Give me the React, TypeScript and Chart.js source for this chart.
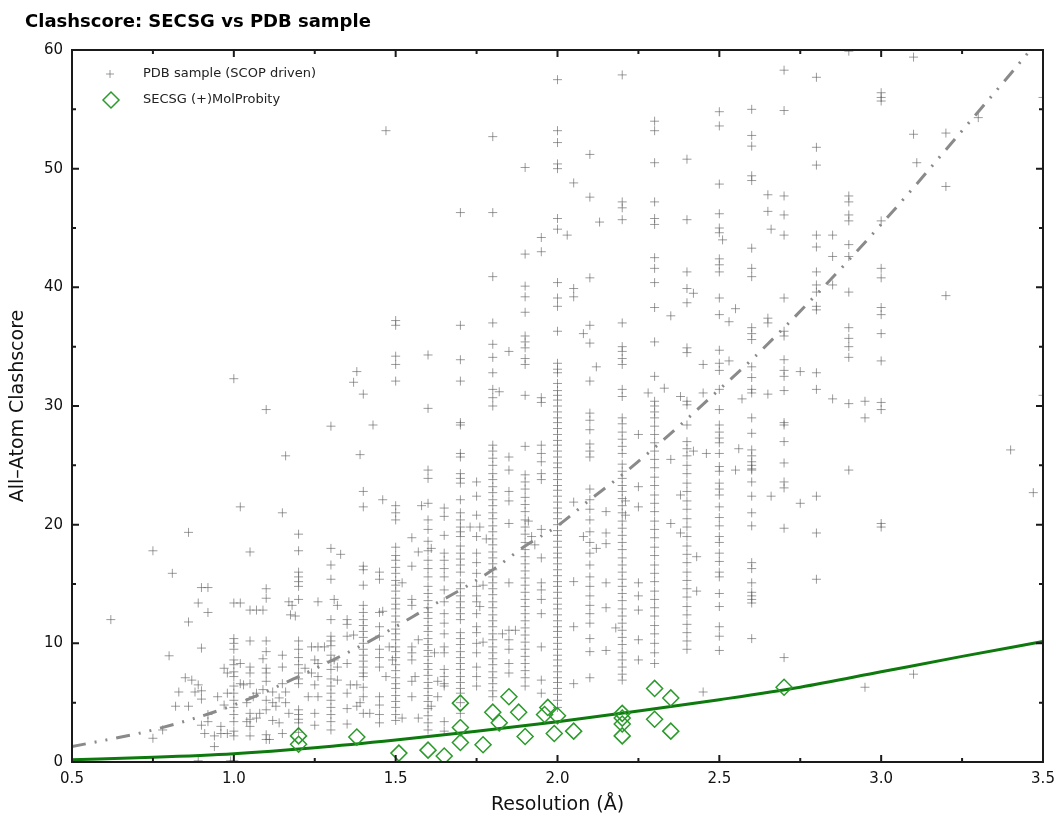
import React, { useEffect, useRef } from "react";
import { Chart, registerables } from "chart.js";

Chart.register(...registerables);

const FONT = '"DejaVu Sans", "Noto Sans", sans-serif';

const chartTitle = "Clashscore: SECSG vs PDB sample";
const xAxisTitle = "Resolution (Å)";
const yAxisTitle = "All\u2013Atom Clashscore";
const legendLabels = ["PDB sample (SCOP driven)", "SECSG (+)MolProbity"];

const xMin = 0.5;
const xMax = 3.5;
const yMin = 0;
const yMax = 60;
const xMajorTicks = [0.5, 1.0, 1.5, 2.0, 2.5, 3.0, 3.5];
const xMinorTicks = [0.75, 1.25, 1.75, 2.25, 2.75, 3.25];
const yMajorTicks = [0, 10, 20, 30, 40, 50, 60];
const yMinorTicks = [5, 15, 25, 35, 45, 55];

// PDB sample: resolutions reported on "stripes" (common resolution values)
const stripeRes = [
  1.0, 1.05, 1.1, 1.15, 1.2, 1.3, 1.4, 1.45, 1.5, 1.6, 1.65, 1.7, 1.75, 1.8, 1.85, 1.9, 1.95, 2.0, 2.05, 2.1,
  2.15, 2.2, 2.25, 2.3, 2.35, 2.4, 2.5, 2.6, 2.7, 2.8, 2.9, 3.0,
];
const stripeClash: number[][] = [
  [10.4, 10.0, 9.5, 8.6, 8.2, 7.6, 7.2, 6.4, 5.8, 5.2, 4.6, 4.0, 3.4, 2.6, 2.2, 0.1],
  [10.2, 8.0, 7.5, 6.6, 4.1, 3.6, 3.0, 2.2],
  [14.6, 13.8, 10.2, 9.3, 7.9, 7.5, 6.8, 5.2, 4.4, 2.3, 1.9],
  [21.0, 9.0, 8.0, 6.6, 2.4],
  [19.2, 17.8, 16.0, 15.6, 15.2, 14.8, 13.7, 10.2, 9.5, 8.8, 8.2, 7.5, 7.0, 6.6, 4.4, 4.0, 3.6, 3.3, 2.5],
  [28.3, 18.0, 16.6, 15.4, 12.0, 10.6, 10.2, 9.8, 9.0, 8.5, 7.8, 7.0, 6.4, 5.8, 5.2, 4.6, 4.0, 3.4, 2.7],
  [22.8, 21.5, 16.5, 16.2, 14.9, 13.2, 12.6, 12.0, 11.5, 11.0, 10.5, 10.0, 9.5, 9.0, 8.5, 8.0, 7.5, 7.2, 6.3, 5.5, 4.1],
  [16.0, 15.4, 12.6, 11.4, 10.6, 9.5, 8.8, 8.0, 5.5, 4.8, 4.0, 3.3],
  [37.2, 36.8, 34.2, 33.5, 32.1, 21.6, 21.0, 20.4, 18.1, 17.4, 17.0, 16.4, 15.9, 15.3, 14.9, 14.4, 13.8, 13.3, 12.9,
    12.3, 11.8, 11.2, 10.8, 10.3, 9.7, 9.3, 8.8, 8.2, 7.7, 7.1, 6.6, 6.2, 5.6, 5.1, 4.6, 4.0, 3.5],
  [34.3, 29.8, 24.6, 23.9, 21.8, 20.4, 19.6, 18.6, 17.8, 17.0, 16.3, 15.6, 14.8, 14.2, 13.6, 13.0, 12.6, 12.1, 11.5,
    11.0, 10.4, 9.9, 9.4, 8.9, 8.3, 7.8, 7.3, 6.7, 6.2, 5.6, 5.1, 4.5, 3.9, 3.3, 2.7],
  [21.4, 20.7, 19.1, 17.6, 17.0, 16.3, 15.6, 14.5, 13.5, 12.5, 11.7, 10.8, 9.7, 9.2, 7.8, 7.2, 6.6, 6.4, 3.4, 2.6],
  [46.3, 36.8, 33.9, 32.1, 28.6, 28.4, 26.0, 25.7, 24.3, 23.9, 23.5, 22.1, 21.0, 20.4, 19.8, 19.4, 19.0, 18.2, 17.6,
    17.1, 16.6, 16.0, 15.1, 14.6, 14.0, 13.5, 13.0, 12.5, 12.0, 10.9, 10.4, 9.9, 9.3, 8.8, 8.3, 7.8, 7.2, 6.7, 6.2,
    5.8, 5.0, 4.1],
  [23.6, 22.4, 20.8, 19.0, 17.6, 16.8, 15.9, 14.8, 14.0, 13.5, 12.5, 11.4, 10.9, 10.0, 9.2, 8.0, 7.2, 6.4],
  [52.7, 46.3, 40.9, 37.0, 35.2, 34.1, 32.8, 31.4, 30.7, 30.0, 26.7, 26.2, 25.6, 25.0, 24.3, 23.8, 23.2, 22.7, 22.1,
    21.6, 21.0, 20.5, 19.9, 19.4, 18.8, 18.3, 17.7, 17.2, 16.7, 16.2, 15.6, 15.1, 14.6, 14.1, 13.5, 13.0, 12.4, 11.9,
    11.4, 10.8, 10.3, 9.7, 9.2, 8.7, 8.2, 7.6, 7.1, 6.6, 6.0, 5.5],
  [34.6, 25.7, 24.6, 22.8, 22.0, 20.1, 15.1, 11.1, 10.3, 9.5, 8.3, 7.5],
  [50.1, 42.8, 40.1, 39.2, 37.9, 35.9, 35.4, 34.9, 34.0, 33.5, 30.9, 26.6, 24.2, 23.6, 23.0, 22.3, 21.7, 21.1, 20.4,
    19.8, 19.2, 18.5, 17.9, 17.3, 16.7, 16.1, 15.5, 14.9, 14.3, 13.7, 13.1, 12.5, 11.9, 11.3, 10.7, 10.1, 9.5, 8.9,
    8.3, 7.7, 7.1, 6.4],
  [44.2, 43.0, 30.7, 30.3, 26.7, 26.0, 25.3, 24.3, 23.8, 19.6, 17.2, 15.1, 14.5, 13.7, 12.5, 9.7, 6.9, 5.8],
  [57.5, 53.2, 52.2, 50.4, 50.0, 45.8, 44.9, 40.4, 39.1, 38.4, 36.3, 33.6, 33.1, 32.8, 31.9, 31.3, 30.9, 30.5, 30.0,
    29.5, 29.0, 28.6, 28.1, 27.6, 27.1, 26.7, 26.2, 25.7, 25.2, 24.8, 24.3, 23.8, 23.3, 22.9, 22.4, 21.9, 21.4, 21.0,
    20.5, 20.0, 19.5, 19.1, 18.6, 18.1, 17.6, 17.2, 16.7, 16.2, 15.7, 15.2, 14.8, 14.3, 13.8, 13.3, 12.9, 12.4, 11.9,
    11.4, 11.0, 10.5, 10.0, 9.5, 9.0, 8.6, 8.1, 7.6, 7.1, 6.7, 6.2, 5.7, 5.2, 4.6],
  [48.8, 39.9, 39.2, 21.9, 15.2, 11.4, 6.6],
  [51.2, 47.6, 40.8, 36.8, 35.3, 32.1, 29.4, 28.8, 28.0, 26.8, 26.2, 25.7, 23.0, 22.1, 21.3, 20.4, 19.4, 18.5, 17.6,
    16.6, 15.6, 14.8, 14.0, 13.2, 12.5, 11.7, 10.4, 9.3, 7.1],
  [21.1, 19.3, 18.4, 15.1, 13.0, 9.4],
  [57.9, 47.2, 46.7, 45.7, 37.0, 35.0, 34.6, 34.0, 33.5, 31.4, 30.8, 29.0, 28.5, 27.8, 27.2, 26.6, 26.0, 25.1, 24.5,
    23.9, 23.3, 22.8, 22.2, 21.6, 21.0, 20.3, 19.7, 19.1, 18.5, 17.9, 17.2, 16.6, 16.0, 15.4, 14.8, 14.2, 13.6, 12.9,
    12.3, 11.7, 11.1, 10.5, 9.9, 9.2, 8.6, 8.0, 7.4, 6.9],
  [27.6, 23.2, 21.5, 15.1, 14.0, 12.8, 10.3, 8.6],
  [54.0, 53.2, 50.5, 47.2, 45.8, 45.3, 42.5, 41.6, 40.4, 38.3, 35.4, 32.5, 30.4, 30.0, 29.5, 29.0, 28.3, 27.6, 26.9,
    26.2, 25.5, 24.8, 24.0, 23.3, 22.5, 21.8, 21.1, 20.3, 19.6, 18.9, 18.1, 17.4, 16.6, 15.9, 15.2, 14.4, 13.7, 13.0,
    12.3, 11.5, 10.8, 10.0, 9.2, 8.3],
  [37.6, 25.5, 20.1],
  [50.8, 45.7, 41.3, 39.9, 38.7, 34.9, 34.5, 30.4, 30.1, 28.4, 27.0, 26.4, 25.8, 25.0, 24.3, 23.5, 22.8, 22.0, 21.3,
    20.5, 19.8, 19.0, 18.2, 17.5, 16.8, 16.0, 15.3, 14.6, 13.9, 13.1, 12.4, 11.6, 10.9, 10.2, 9.5],
  [54.8, 53.6, 48.7, 46.2, 45.0, 44.6, 42.4, 41.9, 41.3, 39.1, 37.7, 34.7, 33.6, 33.0, 31.4, 29.7, 28.4, 27.8, 27.3,
    26.9, 26.0, 24.9, 24.5, 23.5, 23.0, 22.5, 21.5, 20.6, 19.9, 19.0, 18.5, 17.6, 16.9, 16.0, 15.6, 14.2, 13.1, 11.4,
    10.6, 9.4],
  [55.0, 52.8, 51.9, 49.4, 49.0, 43.3, 41.6, 40.9, 36.6, 36.1, 35.6, 33.3, 32.4, 31.4, 31.1, 29.0, 27.7, 26.3, 25.8,
    25.3, 25.0, 24.7, 24.6, 23.6, 22.4, 21.0, 19.9, 16.8, 16.3, 15.1, 14.3, 14.0, 13.7, 13.4, 10.4],
  [58.3, 54.9, 47.7, 46.1, 44.4, 39.1, 36.3, 35.9, 33.9, 33.0, 32.5, 31.3, 28.6, 28.4, 27.0, 25.2, 23.6, 23.1, 19.7, 8.8],
  [57.7, 51.8, 50.3, 44.4, 43.4, 41.3, 40.2, 39.6, 38.4, 38.1, 32.8, 31.4, 22.4, 19.3, 15.4],
  [59.9, 47.7, 47.2, 46.1, 45.6, 43.6, 42.6, 39.6, 36.6, 35.7, 35.0, 34.1, 30.2, 24.6],
  [56.4, 56.0, 55.7, 45.6, 41.6, 40.8, 38.3, 37.7, 36.1, 33.8, 30.3, 29.7, 20.1, 19.8],
];

// PDB sample: entries off the common stripes [resolution, clashscore]
const scatterPoints: [number, number][] = [
  [0.62, 12.0], [0.75, 17.8], [0.81, 15.9], [0.86, 19.35], [0.86, 11.8], [0.8, 8.95], [0.9, 9.6], [0.89, 13.4],
  [0.9, 14.7], [0.92, 14.7], [0.92, 12.6], [1.02, 21.5], [1.05, 17.7], [1.0, 13.4], [1.02, 13.4], [1.05, 12.8],
  [1.07, 12.8], [1.09, 12.8], [1.16, 25.8], [1.43, 28.4], [1.39, 25.9], [1.46, 22.1], [1.17, 13.5], [1.18, 13.2],
  [1.175, 12.4], [1.19, 12.3], [1.26, 13.5], [1.33, 17.5], [1.31, 13.7], [1.32, 13.2], [1.35, 12.0], [1.35, 11.6],
  [1.35, 10.6], [1.37, 10.7], [1.46, 12.7], [0.83, 5.9], [0.82, 4.7], [0.86, 4.7], [0.85, 7.1], [0.87, 6.9],
  [0.89, 6.5], [0.9, 6.0], [0.88, 5.9], [0.9, 5.3], [0.75, 2.0], [0.78, 2.7], [0.9, 3.1], [0.92, 3.4], [0.92, 4.0],
  [0.91, 2.4], [0.94, 2.2], [0.96, 2.4], [0.98, 2.4], [0.94, 1.3], [0.96, 3.0], [0.97, 4.8], [0.95, 5.5], [0.98, 5.8],
  [0.97, 7.9], [0.98, 7.5], [1.02, 8.3], [1.02, 6.6], [1.03, 6.5], [1.04, 5.0], [1.04, 3.4], [1.09, 8.7], [1.09, 6.1],
  [1.12, 5.9], [1.12, 5.0], [1.13, 4.7], [1.11, 1.9], [1.07, 5.8], [1.06, 5.5], [1.08, 4.1], [1.07, 3.7], [1.12, 3.5],
  [1.14, 3.3], [1.16, 5.9], [1.14, 5.4], [1.16, 5.0], [1.17, 4.1], [1.22, 7.9], [1.24, 7.5], [1.26, 7.2], [1.24, 9.7],
  [1.26, 9.7], [1.28, 9.7], [1.25, 8.6], [1.26, 8.3], [1.25, 6.5], [1.26, 5.5], [1.23, 5.5], [1.25, 4.1], [1.25, 3.1],
  [1.32, 6.9], [1.32, 8.0], [1.31, 8.6], [1.35, 8.3], [1.35, 5.8], [1.35, 4.5], [1.35, 3.2], [1.36, 6.5], [1.38, 6.5],
  [1.38, 4.7], [1.39, 5.0], [1.42, 4.1], [1.48, 9.7], [1.49, 8.6], [1.47, 7.2], [0.89, 0.1], [0.99, 0.1],
  [1.0, 32.3], [1.1, 29.7], [1.38, 32.9], [1.37, 32.0], [1.4, 31.0], [1.47, 53.2], [1.52, 15.1], [1.55, 18.9],
  [1.55, 16.5], [1.55, 13.7], [1.55, 13.2], [1.57, 17.7], [1.58, 21.6], [1.57, 10.3], [1.55, 9.7], [1.55, 9.2],
  [1.55, 8.6], [1.55, 6.8], [1.56, 7.2], [1.52, 3.7], [1.57, 3.7], [1.55, 5.5], [1.61, 18.0], [1.62, 9.2],
  [1.63, 6.8], [1.63, 5.5], [1.61, 4.7], [1.77, 14.9], [1.76, 13.1], [1.77, 10.1], [1.73, 19.8], [1.76, 19.8],
  [1.78, 18.8], [1.82, 31.2], [1.83, 10.8], [1.87, 11.1], [1.91, 20.3], [1.92, 19.0], [1.93, 18.3], [2.03, 44.4],
  [2.08, 36.1], [2.12, 33.3], [2.13, 45.5], [2.08, 19.0], [2.12, 18.0], [2.18, 11.3], [2.21, 22.0], [2.21, 20.8],
  [2.28, 31.1], [2.33, 31.5], [2.38, 22.5], [2.38, 19.3], [2.42, 39.5], [2.38, 30.8], [2.42, 26.2], [2.46, 26.0],
  [2.43, 17.3], [2.43, 14.4], [2.45, 5.9], [2.45, 33.5], [2.45, 31.1], [2.51, 44.0], [2.55, 38.2], [2.53, 37.1],
  [2.53, 33.8], [2.57, 30.6], [2.56, 26.4], [2.55, 24.6], [2.65, 47.8], [2.65, 46.4], [2.66, 44.9], [2.65, 37.4],
  [2.65, 37.0], [2.65, 31.0], [2.66, 22.4], [2.75, 32.9], [2.75, 21.8], [2.85, 44.4], [2.85, 42.6], [2.85, 40.2],
  [2.85, 30.6], [2.95, 30.4], [2.95, 29.0], [2.95, 6.3], [3.1, 59.4], [3.1, 52.9], [3.11, 50.5], [3.1, 7.4],
  [3.2, 53.0], [3.2, 48.5], [3.2, 39.3], [3.3, 54.3], [3.4, 26.3], [3.5, 56.0], [3.5, 30.9], [3.47, 22.7],
];

// SECSG structures
const secsgRes = [1.2, 1.2, 1.38, 1.51, 1.6, 1.65, 1.7, 1.7, 1.7, 1.77, 1.8, 1.82, 1.85, 1.88, 1.9, 1.96, 1.97, 2.0,
  1.99, 2.05, 2.2, 2.2, 2.2, 2.2, 2.3, 2.3, 2.35, 2.35, 2.7];
const secsgClash = [2.2, 1.5, 2.1, 0.75, 1.0, 0.5, 4.96, 2.9, 1.65, 1.45, 4.2, 3.3, 5.5, 4.2, 2.15, 4.0, 4.6, 3.9,
  2.4, 2.6, 4.1, 3.7, 3.2, 2.2, 6.2, 3.6, 5.4, 2.6, 6.3];

// Fitted trend curves
const pdbFitRes = [0.5, 0.75, 1.0, 1.2, 1.4, 1.5, 1.6, 1.7, 1.8, 1.9, 2.0, 2.1, 2.2, 2.3, 2.4, 2.5, 2.6, 2.7, 2.8, 2.9,
  3.0, 3.1, 3.2, 3.3, 3.4, 3.5];
const pdbFitClash = [1.3, 2.7, 4.8, 7.2, 9.9, 11.4, 13.0, 14.5, 16.2, 18.2, 19.9, 22.1, 24.2, 26.5, 28.9, 31.4, 33.9,
  36.6, 39.4, 42.3, 45.3, 48.4, 51.6, 54.8, 58.0, 61.3];
const secsgFitRes = [0.5, 0.75, 1.0, 1.25, 1.5, 1.75, 2.0, 2.25, 2.5, 2.75, 3.0, 3.25, 3.5];
const secsgFitClash = [0.2, 0.4, 0.7, 1.2, 1.85, 2.6, 3.4, 4.3, 5.25, 6.3, 7.6, 8.9, 10.15];

const CROSS_COLOR = "rgba(95,95,95,0.62)";
const DIAMOND_COLOR = "#2a9a2a";
const GREEN_LINE = "#0e7a0e";
const GRAY_LINE = "#8a8a8a";

const decorPlugin = {
  id: "decor",
  afterDatasetsDraw(chart: any) {
    const { ctx, chartArea: a, scales } = chart;
    ctx.save();
    // frame
    ctx.strokeStyle = "#1a1a1a";
    ctx.lineWidth = 2;
    ctx.strokeRect(a.left, a.top, a.right - a.left, a.bottom - a.top);
    // inward ticks on all sides
    ctx.beginPath();
    const xt = (v: number, len: number) => {
      const p = scales.x.getPixelForValue(v);
      ctx.moveTo(p, a.bottom);
      ctx.lineTo(p, a.bottom - len);
      ctx.moveTo(p, a.top);
      ctx.lineTo(p, a.top + len);
    };
    const yt = (v: number, len: number) => {
      const p = scales.y.getPixelForValue(v);
      ctx.moveTo(a.left, p);
      ctx.lineTo(a.left + len, p);
      ctx.moveTo(a.right, p);
      ctx.lineTo(a.right - len, p);
    };
    xMajorTicks.forEach((v) => xt(v, 7));
    xMinorTicks.forEach((v) => xt(v, 4));
    yMajorTicks.forEach((v) => yt(v, 7));
    yMinorTicks.forEach((v) => yt(v, 4));
    ctx.stroke();

    // chart title
    ctx.fillStyle = "#000";
    ctx.font = `bold 18px ${FONT}`;
    ctx.textBaseline = "alphabetic";
    ctx.textAlign = "left";
    ctx.fillText(chartTitle, 25, 27);

    // legend inside plot area
    const lx = a.left + 38;
    const ly1 = a.top + 24;
    const ly2 = a.top + 50;
    ctx.strokeStyle = CROSS_COLOR;
    ctx.lineWidth = 1;
    ctx.beginPath();
    ctx.moveTo(lx - 4, ly1);
    ctx.lineTo(lx + 4, ly1);
    ctx.moveTo(lx, ly1 - 4);
    ctx.lineTo(lx, ly1 + 4);
    ctx.stroke();
    ctx.strokeStyle = DIAMOND_COLOR;
    ctx.lineWidth = 1.5;
    ctx.beginPath();
    ctx.moveTo(lx + 1 - 8, ly2);
    ctx.lineTo(lx + 1, ly2 - 8);
    ctx.lineTo(lx + 1 + 8, ly2);
    ctx.lineTo(lx + 1, ly2 + 8);
    ctx.closePath();
    ctx.stroke();
    ctx.fillStyle = "#222";
    ctx.font = `13px ${FONT}`;
    ctx.textBaseline = "middle";
    ctx.fillText(legendLabels[0], a.left + 71, ly1);
    ctx.fillText(legendLabels[1], a.left + 71, ly2);
    ctx.restore();
  },
};

export default function App() {
  const ref = useRef<HTMLCanvasElement | null>(null);

  useEffect(() => {
    if (!ref.current) return;
    const pdbPoints: { x: number; y: number }[] = [];
    stripeRes.forEach((r, i) => stripeClash[i].forEach((c) => pdbPoints.push({ x: r, y: c })));
    scatterPoints.forEach(([r, c]) => pdbPoints.push({ x: r, y: c }));
    const secsgPoints = secsgRes.map((r, i) => ({ x: r, y: secsgClash[i] }));
    const pdbFit = pdbFitRes.map((r, i) => ({ x: r, y: pdbFitClash[i] }));
    const secsgFit = secsgFitRes.map((r, i) => ({ x: r, y: secsgFitClash[i] }));

    const chart = new Chart(ref.current, {
      type: "scatter",
      data: {
        datasets: [
          {
            label: legendLabels[0],
            data: pdbPoints,
            pointStyle: "cross",
            pointRadius: 4.5,
            pointBorderWidth: 1,
            borderColor: CROSS_COLOR,
            backgroundColor: CROSS_COLOR,
            order: 4,
          },
          {
            label: "PDB fit",
            data: pdbFit,
            showLine: true,
            pointRadius: 0,
            borderColor: GRAY_LINE,
            borderWidth: 3,
            borderDash: [14, 9, 2, 9, 2, 9],
            cubicInterpolationMode: "monotone",
            order: 3,
          } as any,
          {
            label: "SECSG fit",
            data: secsgFit,
            showLine: true,
            pointRadius: 0,
            borderColor: GREEN_LINE,
            borderWidth: 3,
            cubicInterpolationMode: "monotone",
            order: 2,
          } as any,
          {
            label: legendLabels[1],
            data: secsgPoints,
            pointStyle: "rectRot",
            pointRadius: 8,
            pointBorderWidth: 1.5,
            borderColor: DIAMOND_COLOR,
            backgroundColor: "rgba(0,0,0,0)",
            order: 1,
          },
        ],
      },
      options: {
        responsive: false,
        animation: false,
        devicePixelRatio: 1,
        layout: { padding: { top: 50, right: 13, left: 0, bottom: 0 } },
        plugins: {
          legend: { display: false },
          tooltip: { enabled: false },
          title: { display: false },
        },
        scales: {
          x: {
            type: "linear",
            min: xMin,
            max: xMax,
            grid: { display: false, drawTicks: false },
            border: { display: false },
            ticks: {
              stepSize: 0.5,
              autoSkip: false,
              maxRotation: 0,
              padding: 8,
              color: "#111",
              font: { family: FONT, size: 15 },
              callback: (v: any) => Number(v).toFixed(1),
            },
            title: {
              display: true,
              text: xAxisTitle,
              color: "#111",
              font: { family: FONT, size: 19 },
              padding: { top: 0, bottom: 0 },
            },
            afterFit: (s: any) => {
              s.height = 54;
              s.paddingLeft = 0;
              s.paddingRight = 0;
            },
          },
          y: {
            type: "linear",
            min: yMin,
            max: yMax,
            grid: { display: false, drawTicks: false },
            border: { display: false },
            ticks: {
              stepSize: 10,
              padding: 9,
              color: "#111",
              font: { family: FONT, size: 15 },
            },
            title: {
              display: true,
              text: yAxisTitle,
              color: "#111",
              font: { family: FONT, size: 19 },
              padding: { top: 7, bottom: 0 },
            },
            afterFit: (s: any) => {
              s.width = 72;
              s.paddingTop = 0;
              s.paddingBottom = 0;
            },
          },
        },
      },
      plugins: [decorPlugin],
    });
    return () => chart.destroy();
  }, []);

  return (
    <div style={{ position: "fixed", left: 0, top: 0, width: 1056, height: 816, background: "#fff" }}>
      <canvas ref={ref} width={1056} height={816} style={{ display: "block" }} />
    </div>
  );
}
